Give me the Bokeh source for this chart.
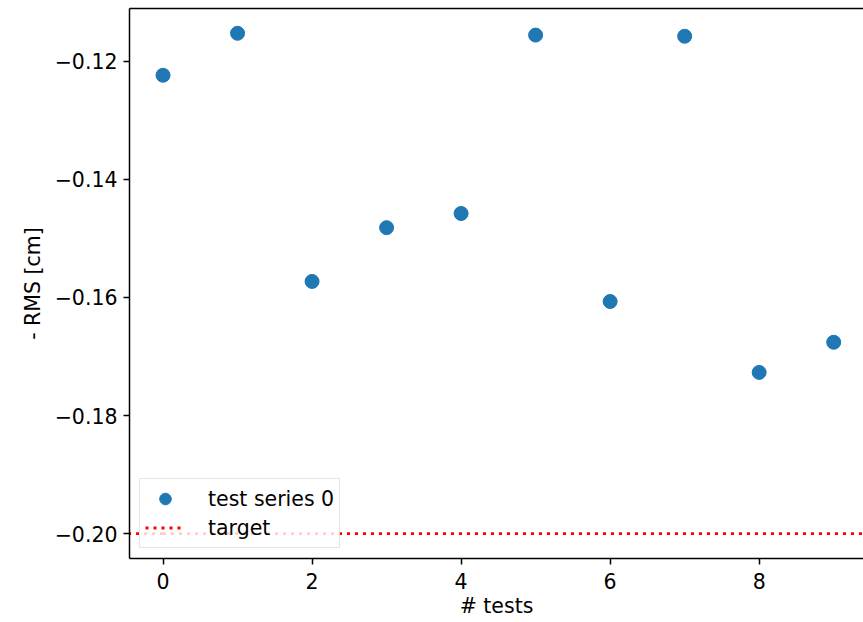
import math
from bokeh.plotting import figure
from bokeh.models import Range1d, FixedTicker, LinearAxis, Legend, LegendItem
from bokeh.embed import file_html
from bokeh.resources import INLINE

# data
tests = [0, 1, 2, 3, 4, 5, 6, 7, 8, 9]
rms = [-0.1224, -0.1153, -0.1573, -0.1482, -0.1458, -0.1156, -0.1607, -0.1158, -0.1727, -0.1676]
target = -0.20
series_label = "test series 0"
target_label = "target"
x_ticks = [0, 2, 4, 6, 8]
y_ticks = [-0.20, -0.18, -0.16, -0.14, -0.12]
y_tick_labels = ["\u22120.20", "\u22120.18", "\u22120.16", "\u22120.14", "\u22120.12"]
x_label = "# tests"
y_label = "- RMS [cm]"

FONT = "DejaVu Sans"
FS = "20.5px"

p = figure(width=863, height=622, output_backend="svg", toolbar_location=None,
           x_range=Range1d(-0.45, 9.40), y_range=Range1d(-0.2042, -0.1111),
           min_border_left=129, min_border_right=0, min_border_top=8, min_border_bottom=64)
p.grid.visible = False
p.outline_line_color = None
p.background_fill_color = "white"
p.border_fill_color = "white"

for ax in (p.xaxis[0], p.yaxis[0]):
    ax.axis_line_width = 1.5
    ax.axis_line_color = "black"
    ax.major_tick_line_width = 1.5
    ax.major_tick_line_color = "black"
    ax.major_tick_out = 6
    ax.major_tick_in = 0
    ax.minor_tick_out = 0
    ax.minor_tick_in = 0
    ax.major_label_text_font = FONT
    ax.major_label_text_font_size = FS
    ax.major_label_text_color = "black"
    ax.axis_label_text_font = FONT
    ax.axis_label_text_font_size = FS
    ax.axis_label_text_font_style = "normal"
    ax.axis_label_text_color = "black"
    ax.major_label_standoff = 6

p.xaxis[0].ticker = FixedTicker(ticks=x_ticks)
p.yaxis[0].ticker = FixedTicker(ticks=y_ticks)
p.yaxis[0].major_label_overrides = {t: l for t, l in zip(y_ticks, y_tick_labels)}
p.xaxis[0].axis_label = x_label
p.yaxis[0].axis_label = y_label
p.xaxis[0].major_label_standoff = 8
p.xaxis[0].axis_label_standoff = 2
p.yaxis[0].axis_label_standoff = 7

top = LinearAxis(ticker=FixedTicker(ticks=[]), axis_line_width=1.5, axis_line_color="black",
                 major_tick_out=0, major_tick_in=0, minor_tick_out=0, minor_tick_in=0,
                 major_label_text_font_size="0px", major_label_standoff=0)
p.add_layout(top, "above")

pts = p.scatter(tests, rms, size=14, color="#1f77b4", line_color="#1f77b4")
tl = p.ray(x=[tests[0], tests[0]], y=[target, target], length=0, angle=[0, math.pi],
           line_color="red", line_width=2.8, line_dash="3 5")

legend = Legend(items=[LegendItem(label=series_label, renderers=[pts]),
                       LegendItem(label=target_label, renderers=[tl])],
                location="bottom_left", margin=10, padding=5, spacing=0,
                glyph_width=40, glyph_height=29, label_height=29, label_standoff=23,
                label_text_font=FONT, label_text_font_size=FS, label_text_color="black",
                border_line_color="#cccccc", border_line_width=1.5,
                background_fill_color="white", background_fill_alpha=0.8)
p.add_layout(legend, "center")

open("out.html", "w").write(file_html(p, INLINE))
